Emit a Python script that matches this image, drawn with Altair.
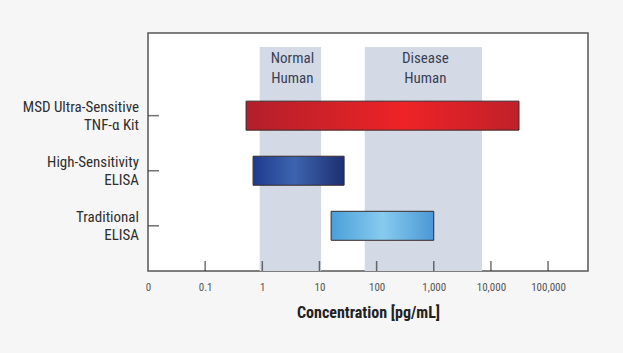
import altair as alt
import pandas as pd

# ---- data ----
methods = ["MSD Ultra-Sensitive\nTNF-\u03b1 Kit", "High-Sensitivity\nELISA", "Traditional\nELISA"]
method_pos = [3, 2, 1]
range_low = [0.52, 0.69, 16]
range_high = [31000, 27, 1000]

band_names = ["Normal\nHuman", "Disease\nHuman"]
band_low = [0.9, 62]
band_high = [10.7, 7000]

tick_values = [0.1, 1, 10, 100, 1000, 10000, 100000]
axis_values = [0.01] + tick_values

FONT = "Liberation Sans Narrow, Roboto Condensed, Arial Narrow, Roboto, sans-serif"

bars_df = pd.DataFrame({"method": methods, "pos": method_pos, "lo": range_low, "hi": range_high})
bands_df = pd.DataFrame({"name": band_names, "lo": band_low, "hi": band_high})
ticks_df = pd.DataFrame({"v": tick_values})

xscale = alt.Scale(type="log", domain=[0.01, 500000], nice=False)
yscale = alt.Scale(domain=[0.27, 4.41], nice=False, zero=False)
xaxis = alt.Axis(
    values=axis_values,
    labelExpr="datum.value < 0.05 ? '0' : format(datum.value, ',')",
    ticks=False, tickSize=0, domain=False, grid=False,
    labelFont=FONT, labelFontSize=11, labelColor="#555555", labelPadding=10,
    labelFlush=False, labelOverlap=False,
    title="Concentration [pg/mL]", titleFont=FONT, titleFontSize=16,
    titleFontWeight="bold", titleColor="#222222", titlePadding=12,
)


def grad(left, mid, right, mid_at=0.5):
    return alt.Gradient(
        gradient="linear",
        stops=[
            alt.GradientStop(offset=0, color=left),
            alt.GradientStop(offset=mid_at, color=mid),
            alt.GradientStop(offset=1, color=right),
        ],
        x1=0, x2=1, y1=0, y2=0,
    )


bands = alt.Chart(bands_df).mark_rect(color="#d3dae6").encode(
    x=alt.X("lo:Q", scale=xscale, axis=xaxis),
    x2="hi:Q",
    y=alt.value(14),
    y2=alt.value(238),
)

band_text = alt.Chart(bands_df).transform_calculate(
    mid="sqrt(datum.lo * datum.hi)"
).mark_text(
    lineBreak="\n", baseline="middle", align="center", fontSize=15, lineHeight=20.5,
    font=FONT, color="#3a3f55", dx=2
).encode(
    x=alt.X("mid:Q", scale=xscale, axis=xaxis),
    y=alt.value(24.5),
    text="name:N",
)

fills = {
    3: grad("#b21f2b", "#ee2326", "#c0212a", 0.58),
    2: grad("#1f3a8f", "#3d64ae", "#1d2f73", 0.45),
    1: grad("#4a9fd9", "#87cbef", "#4b98d5", 0.5),
}

bar_layers = []
for p in method_pos:
    bar_layers.append(
        alt.Chart(bars_df).transform_filter(f"datum.pos == {p}").mark_bar(
            orient="horizontal", size=29, fill=fills[p], stroke="#3a2a2a", strokeWidth=1
        ).encode(
            x=alt.X("lo:Q", scale=xscale, axis=xaxis),
            x2="hi:Q",
            y=alt.Y("pos:Q", scale=yscale, axis=None),
        )
    )

y_ticks = alt.Chart(bars_df).mark_tick(size=11, thickness=1.5, color="#333333").encode(
    y=alt.Y("pos:Q", scale=yscale, axis=None),
    x=alt.value(5.5),
)

x_ticks = alt.Chart(ticks_df).mark_tick(size=10, thickness=1.5, color="#333333").encode(
    x=alt.X("v:Q", scale=xscale, axis=xaxis),
    y=alt.value(233),
)

y_labels = alt.Chart(bars_df).mark_text(
    align="right", baseline="middle", lineBreak="\n", fontSize=15, lineHeight=18.5,
    font=FONT, color="#2e2e2e", dy=-9
).encode(
    x=alt.value(-9),
    y=alt.Y("pos:Q", scale=yscale, axis=None),
    text="method:N",
)

chart = alt.layer(bands, band_text, *bar_layers, y_ticks, x_ticks, y_labels).properties(
    width=440,
    height=238,
    autosize=alt.AutoSizeParams(type="none"),
    padding={"left": 148, "top": 33, "right": 35, "bottom": 82},
    background="#f6f6f6",
).configure_view(stroke="#555555", strokeWidth=1.5, fill="white")

chart.save("out.html", embed_options={"renderer": "svg", "actions": False})
